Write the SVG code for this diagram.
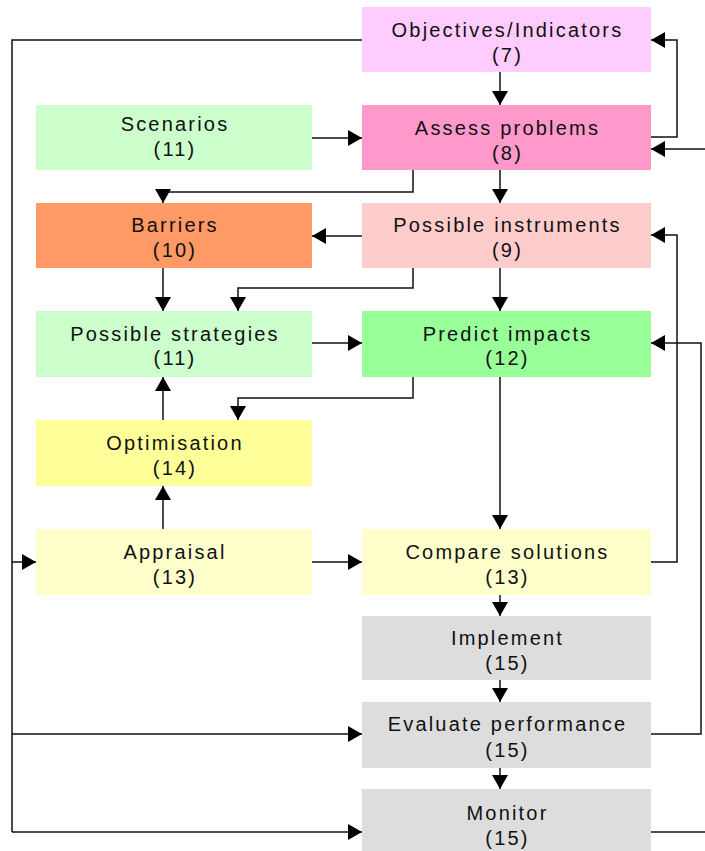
<svg xmlns="http://www.w3.org/2000/svg" width="705" height="851" viewBox="0 0 705 851">
<defs>
<marker id="ah" viewBox="0 0 14 16" refX="14" refY="8" markerWidth="14" markerHeight="16" markerUnits="userSpaceOnUse" orient="auto">
<path d="M0,0 L14,8 L0,16 z" fill="#000"/>
</marker>
<style>
text{font-family:"Liberation Sans",Arial,sans-serif;font-size:20px;letter-spacing:2.2px;fill:#111;text-anchor:middle}
.c{fill:none;stroke:#111;stroke-width:1.5}
.a{marker-end:url(#ah)}
</style>
</defs>
<rect width="705" height="851" fill="#fff"/>
<g id="connectors">
<path class="c" d="M362,40 H12 V832"/>
<path class="c a" d="M12,562 H36"/>
<path class="c a" d="M12,734 H362"/>
<path class="c a" d="M12,832 H362"/>
<path class="c a" d="M500,72 V105"/>
<path class="c a" d="M651,137 H677 V40 H651"/>
<path class="c a" d="M705,149 H651"/>
<path class="c a" d="M312,138 H362"/>
<path class="c a" d="M413,170 V192 H163 V203"/>
<path class="c a" d="M500,170 V203"/>
<path class="c a" d="M362,236 H312"/>
<path class="c a" d="M163,268 V311"/>
<path class="c a" d="M413,268 V288 H238 V311"/>
<path class="c a" d="M500,268 V311"/>
<path class="c a" d="M312,343 H362"/>
<path class="c a" d="M413,377 V398 H238 V420"/>
<path class="c a" d="M163,420 V377"/>
<path class="c a" d="M163,529 V486"/>
<path class="c a" d="M500,377 V529"/>
<path class="c a" d="M312,562 H362"/>
<path class="c a" d="M651,562 H677 V235 H651"/>
<path class="c a" d="M651,734 H701 V343 H651"/>
<path class="c a" d="M500,595 V616"/>
<path class="c a" d="M500,680 V702"/>
<path class="c a" d="M500,768 V789"/>
<path class="c" d="M651,832 H705"/>
</g>
<g id="objectives"><rect x="362" y="7" width="289" height="65" fill="#ffccff"/><text x="507.5" y="37">Objectives/Indicators</text><text x="507.5" y="62">(7)</text></g>
<g id="assess"><rect x="362" y="105" width="289" height="65" fill="#ff99cc"/><text x="507.5" y="135">Assess problems</text><text x="507.5" y="160">(8)</text></g>
<g id="scenarios"><rect x="36" y="105" width="276" height="65" fill="#ccffcc"/><text x="175" y="131">Scenarios</text><text x="175" y="156">(11)</text></g>
<g id="barriers"><rect x="36" y="203" width="276" height="65" fill="#ff9966"/><text x="175" y="232">Barriers</text><text x="175" y="257">(10)</text></g>
<g id="instruments"><rect x="362" y="203" width="289" height="65" fill="#ffcccc"/><text x="507.5" y="232">Possible instruments</text><text x="507.5" y="257">(9)</text></g>
<g id="strategies"><rect x="36" y="311" width="276" height="66" fill="#ccffcc"/><text x="175" y="341">Possible strategies</text><text x="175" y="365">(11)</text></g>
<g id="predict"><rect x="362" y="311" width="289" height="66" fill="#99ff99"/><text x="507.5" y="341">Predict impacts</text><text x="507.5" y="365">(12)</text></g>
<g id="optimisation"><rect x="36" y="420" width="276" height="66" fill="#ffff99"/><text x="175" y="450">Optimisation</text><text x="175" y="475">(14)</text></g>
<g id="appraisal"><rect x="36" y="529" width="276" height="66" fill="#ffffcc"/><text x="175" y="559">Appraisal</text><text x="175" y="584">(13)</text></g>
<g id="compare"><rect x="362" y="529" width="289" height="66" fill="#ffffcc"/><text x="507.5" y="559">Compare solutions</text><text x="507.5" y="584">(13)</text></g>
<g id="implement"><rect x="362" y="616" width="289" height="64" fill="#dddddd"/><text x="507.5" y="645">Implement</text><text x="507.5" y="670">(15)</text></g>
<g id="evaluate"><rect x="362" y="702" width="289" height="66" fill="#dddddd"/><text x="507.5" y="731">Evaluate performance</text><text x="507.5" y="757">(15)</text></g>
<g id="monitor"><rect x="362" y="789" width="289" height="66" fill="#dddddd"/><text x="507.5" y="820">Monitor</text><text x="507.5" y="845">(15)</text></g>
</svg>
